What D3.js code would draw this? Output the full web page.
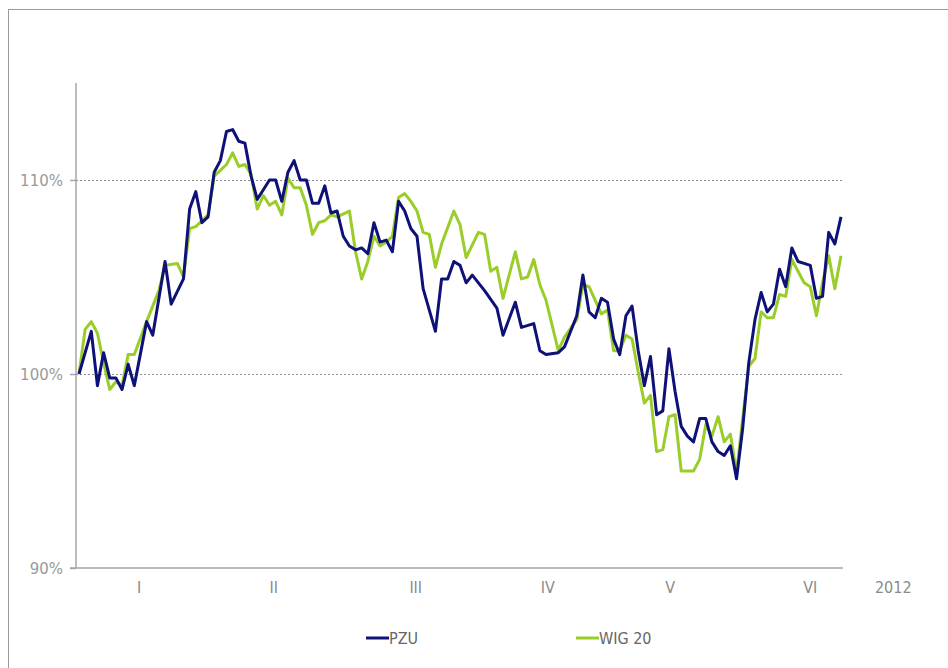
<!DOCTYPE html>
<html lang="pl">
<head>
<meta charset="UTF-8">
<title>PZU vs WIG 20</title>
<script src="https://cdn.jsdelivr.net/npm/d3@7"></script>
<style>
  body, html { margin: 0; background: #fff; }
  svg { display: block; }
  .ylab { font-family: "DejaVu Sans", Verdana, sans-serif; font-size: 15px; fill: #9a9a9a; text-anchor: end; }
  .xlab { font-family: "DejaVu Sans Condensed", "Liberation Sans Narrow", "DejaVu Sans", sans-serif; font-stretch: condensed; font-size: 16px; fill: #8a8a8a; text-anchor: middle; }
  .leg { font-family: "DejaVu Sans Condensed", "Liberation Sans Narrow", "DejaVu Sans", sans-serif; font-stretch: condensed; font-size: 16px; fill: #666; }
</style>
</head>
<body>
<svg width="948" height="668"></svg>
<script>
// trading-day index and value (% of start)
const pzuDay = [0,2,3,4,5,6,7,8,9,11,12,14,15,17,18,19,20,21,22,23,24,25,26,27,28,29,30,31,32,33,34,35,36,37,38,39,40,41,42,43,44,45,46,47,48,49,50,51,52,53,54,55,56,58,59,60,61,62,63,64,65,66,68,69,71,72,74,75,76,78,79,81,82,83,84,85,86,87,88,89,90,91,92,93,94,95,96,97,98,99,100,101,102,103,104,105,106,107,108,109,110,111,112,113,114,115,116,117,118,119,120,121,122,123,124];
const pzuVal = [100.0,102.2,99.4,101.1,99.8,99.8,99.2,100.5,99.4,102.7,102.0,105.8,103.6,104.9,108.5,109.4,107.8,108.1,110.4,111.0,112.5,112.6,112.0,111.9,110.2,109.0,109.5,110.0,110.0,108.9,110.4,111.0,110.0,110.0,108.8,108.8,109.7,108.3,108.4,107.1,106.6,106.4,106.5,106.2,107.8,106.8,106.9,106.3,108.9,108.4,107.5,107.1,104.4,102.2,104.9,104.9,105.8,105.6,104.7,105.1,104.7,104.3,103.4,102.0,103.7,102.4,102.6,101.2,101.0,101.1,101.4,103.0,105.1,103.2,102.9,103.9,103.7,101.8,101.0,103.0,103.5,101.2,99.4,100.9,97.9,98.1,101.3,99.1,97.3,96.8,96.5,97.7,97.7,96.5,96.0,95.8,96.3,94.6,97.2,100.6,102.8,104.2,103.2,103.6,105.4,104.5,106.5,105.8,105.7,105.6,103.9,104.0,107.3,106.7,108.1];

const wigDay = [0,1,2,3,4,5,6,7,8,9,11,13,14,16,17,18,19,20,21,22,23,24,25,26,27,28,29,30,31,32,33,34,35,36,37,38,39,40,41,42,44,45,46,47,48,49,50,51,52,53,54,55,56,57,58,59,61,62,63,65,66,67,68,69,71,72,73,74,75,76,78,79,81,82,83,85,86,87,88,89,90,91,92,93,94,95,96,97,98,100,101,102,103,104,105,106,107,108,109,110,111,112,113,114,115,116,117,118,119,120,121,122,123,124];
const wigVal = [100.0,102.3,102.7,102.1,100.6,99.2,99.6,99.4,101.0,101.0,102.7,104.3,105.6,105.7,105.0,107.5,107.6,107.9,108.2,110.2,110.5,110.8,111.4,110.7,110.8,110.3,108.5,109.2,108.7,108.9,108.2,110.1,109.6,109.6,108.7,107.2,107.8,107.9,108.2,108.1,108.4,106.3,104.9,105.8,107.1,106.6,106.8,107.1,109.1,109.3,108.9,108.4,107.3,107.2,105.5,106.7,108.4,107.7,106.0,107.3,107.2,105.3,105.5,103.9,106.3,104.9,105.0,105.9,104.6,103.8,101.2,101.9,102.8,104.6,104.5,103.1,103.3,101.2,101.2,102.0,101.8,100.1,98.5,98.9,96.0,96.1,97.8,97.9,95.0,95.0,95.6,97.4,96.8,97.8,96.5,96.9,94.9,97.7,100.4,100.8,103.2,102.9,102.9,104.1,104.0,105.9,105.3,104.7,104.5,103.0,104.7,106.1,104.4,106.1];

const yTicks = [90, 100, 110];
const gridVals = [100, 110];
const months = ["I", "II", "III", "IV", "V", "VI"];
const monthPos = [9.8, 31.7, 54.8, 76.3, 96.2, 119];
const yearLabel = "2012";
const yearPos = 132.5;

const series = [
  { name: "PZU", color: "#0e1177", days: pzuDay, vals: pzuVal },
  { name: "WIG 20", color: "#9acd2a", days: wigDay, vals: wigVal }
];

const svg = d3.select("svg");

// outer frame
svg.append("rect")
  .attr("x", 8.5).attr("y", 9.5)
  .attr("width", 960).attr("height", 680)
  .attr("fill", "none").attr("stroke", "#9b9b9b").attr("stroke-width", 1);

const x = d3.scaleLinear().domain([0, 124]).range([79, 841]);
const y = d3.scaleLinear().domain([90, 115]).range([568, 83]);
const x0 = 76, x1 = 843;

// gridlines
svg.selectAll("line.grid")
  .data(gridVals)
  .enter().append("line")
  .attr("class", "grid")
  .attr("x1", x0).attr("x2", x1)
  .attr("y1", d => y(d) + 0.5).attr("y2", d => y(d) + 0.5)
  .attr("stroke", "#8c8c8c").attr("stroke-width", 1)
  .attr("stroke-dasharray", "2,2");

// y axis
const yAxis = d3.axisLeft(y)
  .tickValues(yTicks)
  .tickSize(6)
  .tickFormat(d => d + "%");
const gy = svg.append("g").attr("transform", `translate(${x0},0)`).call(yAxis);
gy.select(".domain").remove();
gy.selectAll(".tick line").attr("stroke", "#a6a6a6").attr("stroke-width", 1.5);
gy.selectAll(".tick text").attr("class", "ylab").attr("x", -13).attr("dy", "0.35em").attr("font-size", null).attr("font-family", null).attr("fill", null);
gy.attr("font-size", null).attr("font-family", null);

svg.append("line")
  .attr("x1", x0).attr("x2", x0).attr("y1", y(115)).attr("y2", y(90))
  .attr("stroke", "#a6a6a6").attr("stroke-width", 1.5);
svg.append("line")
  .attr("x1", x0 - 6).attr("x2", x1).attr("y1", y(90)).attr("y2", y(90))
  .attr("stroke", "#a6a6a6").attr("stroke-width", 1.5);

// month labels
svg.selectAll("text.xlab")
  .data(months)
  .enter().append("text")
  .attr("class", "xlab")
  .attr("x", (d, i) => x(monthPos[i]))
  .attr("y", 593)
  .text(d => d);
svg.append("text").attr("class", "xlab")
  .attr("x", x(yearPos)).attr("y", 593).text(yearLabel);

// series lines
const line = d3.line()
  .x(d => x(d[0]))
  .y(d => y(d[1]));

series.slice().reverse().forEach(s => {
  const pts = s.days.map((d, i) => [d, s.vals[i]]);
  svg.append("path")
    .datum(pts)
    .attr("d", line)
    .attr("fill", "none")
    .attr("stroke", s.color)
    .attr("stroke-width", 3)
    .attr("stroke-linejoin", "round");
});

// legend
const legX = [366, 576];
series.forEach((s, i) => {
  const g = svg.append("g").attr("transform", `translate(${legX[i]},638)`);
  g.append("line").attr("x1", 0).attr("x2", 23).attr("y1", 0).attr("y2", 0)
    .attr("stroke", s.color).attr("stroke-width", 3);
  g.append("text").attr("class", "leg").attr("x", 23).attr("y", 6).text(s.name);
});
</script>
</body>
</html>
